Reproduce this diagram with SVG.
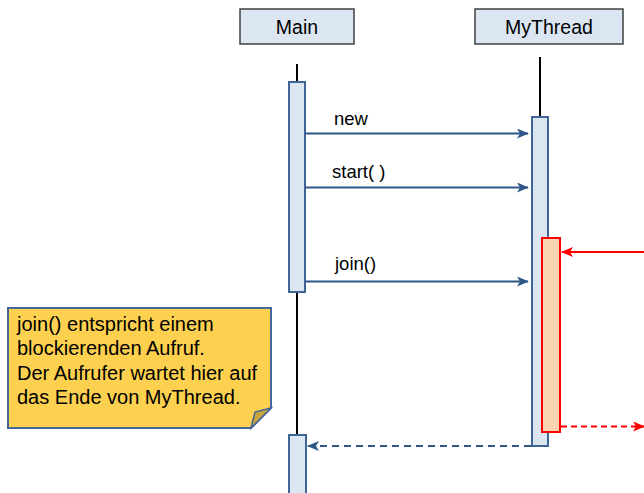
<svg xmlns="http://www.w3.org/2000/svg" width="644" height="493" viewBox="0 0 644 493">
<style>
.hdr{fill:#dce6f2;stroke:#404040;stroke-width:1.5}
.act{fill:#dce6f2;stroke:#3d6595;stroke-width:2}
.life{stroke:#000;stroke-width:2}
.msg{stroke:#2f5788;stroke-width:2;fill:none}
.red{stroke:#ff0000;stroke-width:2;fill:none}
text{font-family:"Liberation Sans",Arial,sans-serif;fill:#000}
.h{font-size:19.5px}
.l{font-size:18.5px}
.n{font-size:20px}
</style>
<defs>
<marker id="ab" markerWidth="12" markerHeight="10" refX="11" refY="5" orient="auto" markerUnits="userSpaceOnUse"><path d="M0,0 L12,5 L0,10 L3,5 Z" fill="#2f5788"/></marker>
<marker id="ar" markerWidth="12" markerHeight="10" refX="11" refY="5" orient="auto" markerUnits="userSpaceOnUse"><path d="M0,0 L12,5 L0,10 L3,5 Z" fill="#ff0000"/></marker>
</defs>
<g id="main">
<rect class="hdr" x="240" y="9" width="114" height="35"/>
<text class="h" x="297" y="34" text-anchor="middle">Main</text>
<line class="life" x1="297" y1="64" x2="297" y2="434"/>
<rect class="act" x="289" y="82" width="16" height="210"/>
<rect class="act" x="289" y="435" width="17" height="62"/>
</g>
<g id="mythread">
<rect class="hdr" x="475" y="9" width="148" height="35"/>
<text class="h" x="549" y="34" text-anchor="middle">MyThread</text>
<line class="life" x1="540" y1="57" x2="540" y2="117"/>
<rect class="act" x="532" y="117" width="16" height="329"/>
<rect x="542" y="238" width="18" height="194" fill="#fcd5b5" stroke="#ff0000" stroke-width="2"/>
</g>
<g id="note">
<path d="M8,308 L271,308 L271,408 L251,428 L8,428 Z" fill="#fdd14f" stroke="#46679a" stroke-width="2"/>
<path d="M251,428 L255,412 L271,408 Z" fill="#c9a63a" stroke="#46679a" stroke-width="1.5"/>
<text class="n" x="17" y="331">join() entspricht einem</text>
<text class="n" x="17" y="355">blockierenden Aufruf.</text>
<text class="n" x="17" y="380">Der Aufrufer wartet hier auf</text>
<text class="n" x="17" y="404">das Ende von MyThread.</text>
</g>
<g id="connectors">
<line class="msg" x1="306" y1="133.5" x2="528" y2="133.5" marker-end="url(#ab)"/>
<text class="l" x="334" y="125">new</text>
<line class="msg" x1="306" y1="187.5" x2="528" y2="187.5" marker-end="url(#ab)"/>
<text class="l" x="332" y="178">start( )</text>
<line class="msg" x1="306" y1="281.5" x2="528" y2="281.5" marker-end="url(#ab)"/>
<text class="l" x="335" y="270">join()</text>
<line class="red" x1="644" y1="252" x2="562" y2="252" marker-end="url(#ar)"/>
<line class="red" x1="561" y1="426.5" x2="644" y2="426.5" stroke-dasharray="6,4" marker-end="url(#ar)"/>
<line class="msg" x1="531" y1="446" x2="308" y2="446" stroke-dasharray="7,5" marker-end="url(#ab)"/>
</g>
</svg>
